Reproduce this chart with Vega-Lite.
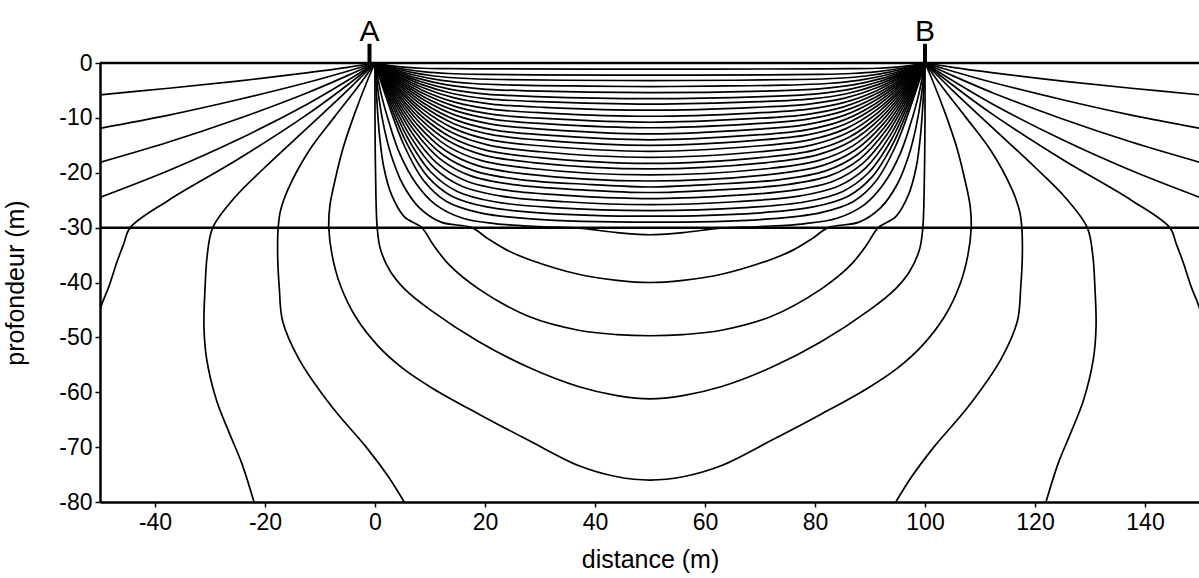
{
"$schema": "https://vega.github.io/schema/vega-lite/v6.json",
"width": 1100, "height": 439,
"autosize": {"type": "none"},
"padding": {"left": 100, "top": 63, "right": 0, "bottom": 76},
"background": "white",
"config": {"view": {"stroke": null}, "font": "Liberation Sans",
 "axis": {"grid": false, "domainColor": "black", "domainWidth": 2.5, "tickColor": "black", "tickWidth": 1.5, "tickSize": 5, "labelColor": "black", "labelFont": "Liberation Sans", "labelFontSize": 23, "titleFont": "Liberation Sans", "titleFontSize": 25, "titleFontWeight": "normal", "titleColor": "black"}},
"datasets": {"flow": [
{"s":"u1","x":0,"y":0},{"s":"u1","x":1.57,"y":-0.28},{"s":"u1","x":3.52,"y":-0.57},{"s":"u1","x":5.87,"y":-0.81},{"s":"u1","x":8.61,"y":-0.96},{"s":"u1","x":12.53,"y":-1.03},{"s":"u1","x":18.79,"y":-1.08},{"s":"u1","x":50,"y":-1.1},{"s":"u1","x":81.21,"y":-1.08},{"s":"u1","x":87.47,"y":-1.03},{"s":"u1","x":91.39,"y":-0.96},{"s":"u1","x":94.13,"y":-0.81},{"s":"u1","x":96.48,"y":-0.57},{"s":"u1","x":98.43,"y":-0.28},{"s":"u1","x":100,"y":0},
{"s":"u2","x":0,"y":0},{"s":"u2","x":2.42,"y":-0.55},{"s":"u2","x":5.45,"y":-1.14},{"s":"u2","x":9.08,"y":-1.63},{"s":"u2","x":13.32,"y":-1.91},{"s":"u2","x":19.38,"y":-2.07},{"s":"u2","x":29.06,"y":-2.16},{"s":"u2","x":50,"y":-2.2},{"s":"u2","x":70.94,"y":-2.16},{"s":"u2","x":80.62,"y":-2.07},{"s":"u2","x":86.68,"y":-1.91},{"s":"u2","x":90.92,"y":-1.63},{"s":"u2","x":94.55,"y":-1.14},{"s":"u2","x":97.58,"y":-0.55},{"s":"u2","x":100,"y":0},
{"s":"u3","x":0,"y":0},{"s":"u3","x":2.86,"y":-0.8},{"s":"u3","x":6.44,"y":-1.66},{"s":"u3","x":10.74,"y":-2.37},{"s":"u3","x":15.75,"y":-2.78},{"s":"u3","x":22.91,"y":-3.01},{"s":"u3","x":34.37,"y":-3.14},{"s":"u3","x":50,"y":-3.2},{"s":"u3","x":65.63,"y":-3.14},{"s":"u3","x":77.09,"y":-3.01},{"s":"u3","x":84.25,"y":-2.78},{"s":"u3","x":89.26,"y":-2.37},{"s":"u3","x":93.56,"y":-1.66},{"s":"u3","x":97.14,"y":-0.8},{"s":"u3","x":100,"y":0},
{"s":"u4","x":0,"y":0},{"s":"u4","x":3.23,"y":-1.08},{"s":"u4","x":7.27,"y":-2.24},{"s":"u4","x":12.12,"y":-3.18},{"s":"u4","x":17.78,"y":-3.74},{"s":"u4","x":25.86,"y":-4.04},{"s":"u4","x":38.78,"y":-4.21},{"s":"u4","x":50,"y":-4.3},{"s":"u4","x":61.22,"y":-4.21},{"s":"u4","x":74.14,"y":-4.04},{"s":"u4","x":82.22,"y":-3.74},{"s":"u4","x":87.88,"y":-3.18},{"s":"u4","x":92.73,"y":-2.24},{"s":"u4","x":96.77,"y":-1.08},{"s":"u4","x":100,"y":0},
{"s":"u5","x":0,"y":0},{"s":"u5","x":3.49,"y":-1.35},{"s":"u5","x":7.85,"y":-2.81},{"s":"u5","x":13.08,"y":-4.0},{"s":"u5","x":19.18,"y":-4.7},{"s":"u5","x":27.9,"y":-5.08},{"s":"u5","x":50,"y":-5.4},{"s":"u5","x":72.1,"y":-5.08},{"s":"u5","x":80.82,"y":-4.7},{"s":"u5","x":86.92,"y":-4.0},{"s":"u5","x":92.15,"y":-2.81},{"s":"u5","x":96.51,"y":-1.35},{"s":"u5","x":100,"y":0},
{"s":"u6","x":0,"y":0},{"s":"u6","x":3.67,"y":-1.63},{"s":"u6","x":8.26,"y":-3.38},{"s":"u6","x":13.77,"y":-4.81},{"s":"u6","x":20.2,"y":-5.66},{"s":"u6","x":29.38,"y":-6.11},{"s":"u6","x":50,"y":-6.5},{"s":"u6","x":70.62,"y":-6.11},{"s":"u6","x":79.8,"y":-5.66},{"s":"u6","x":86.23,"y":-4.81},{"s":"u6","x":91.74,"y":-3.38},{"s":"u6","x":96.33,"y":-1.63},{"s":"u6","x":100,"y":0},
{"s":"u7","x":0,"y":0},{"s":"u7","x":3.75,"y":-1.88},{"s":"u7","x":8.44,"y":-3.9},{"s":"u7","x":14.06,"y":-5.55},{"s":"u7","x":20.63,"y":-6.53},{"s":"u7","x":30.0,"y":-7.05},{"s":"u7","x":50,"y":-7.5},{"s":"u7","x":70.0,"y":-7.05},{"s":"u7","x":79.37,"y":-6.53},{"s":"u7","x":85.94,"y":-5.55},{"s":"u7","x":91.56,"y":-3.9},{"s":"u7","x":96.25,"y":-1.88},{"s":"u7","x":100,"y":0},
{"s":"u8","x":0,"y":0},{"s":"u8","x":3.85,"y":-2.15},{"s":"u8","x":8.65,"y":-4.47},{"s":"u8","x":14.42,"y":-6.36},{"s":"u8","x":21.15,"y":-7.48},{"s":"u8","x":30.77,"y":-8.08},{"s":"u8","x":50,"y":-8.6},{"s":"u8","x":69.23,"y":-8.08},{"s":"u8","x":78.85,"y":-7.48},{"s":"u8","x":85.58,"y":-6.36},{"s":"u8","x":91.35,"y":-4.47},{"s":"u8","x":96.15,"y":-2.15},{"s":"u8","x":100,"y":0},
{"s":"u9","x":0,"y":0},{"s":"u9","x":3.91,"y":-2.43},{"s":"u9","x":8.79,"y":-5.04},{"s":"u9","x":14.66,"y":-7.18},{"s":"u9","x":21.49,"y":-8.44},{"s":"u9","x":31.26,"y":-9.12},{"s":"u9","x":50,"y":-9.7},{"s":"u9","x":68.74,"y":-9.12},{"s":"u9","x":78.51,"y":-8.44},{"s":"u9","x":85.34,"y":-7.18},{"s":"u9","x":91.21,"y":-5.04},{"s":"u9","x":96.09,"y":-2.43},{"s":"u9","x":100,"y":0},
{"s":"u10","x":0,"y":0},{"s":"u10","x":3.95,"y":-2.7},{"s":"u10","x":8.88,"y":-5.62},{"s":"u10","x":14.8,"y":-7.99},{"s":"u10","x":21.7,"y":-9.4},{"s":"u10","x":31.57,"y":-10.15},{"s":"u10","x":50,"y":-10.8},{"s":"u10","x":68.43,"y":-10.15},{"s":"u10","x":78.3,"y":-9.4},{"s":"u10","x":85.2,"y":-7.99},{"s":"u10","x":91.12,"y":-5.62},{"s":"u10","x":96.05,"y":-2.7},{"s":"u10","x":100,"y":0},
{"s":"u11","x":0,"y":0},{"s":"u11","x":3.93,"y":-2.95},{"s":"u11","x":8.84,"y":-6.14},{"s":"u11","x":14.73,"y":-8.73},{"s":"u11","x":21.6,"y":-10.27},{"s":"u11","x":31.42,"y":-11.09},{"s":"u11","x":50,"y":-11.8},{"s":"u11","x":68.58,"y":-11.09},{"s":"u11","x":78.4,"y":-10.27},{"s":"u11","x":85.27,"y":-8.73},{"s":"u11","x":91.16,"y":-6.14},{"s":"u11","x":96.07,"y":-2.95},{"s":"u11","x":100,"y":0},
{"s":"u12","x":0,"y":0},{"s":"u12","x":3.93,"y":-3.23},{"s":"u12","x":8.84,"y":-6.71},{"s":"u12","x":14.73,"y":-9.55},{"s":"u12","x":21.6,"y":-11.22},{"s":"u12","x":31.42,"y":-12.13},{"s":"u12","x":50,"y":-12.9},{"s":"u12","x":68.58,"y":-12.13},{"s":"u12","x":78.4,"y":-11.22},{"s":"u12","x":85.27,"y":-9.55},{"s":"u12","x":91.16,"y":-6.71},{"s":"u12","x":96.07,"y":-3.23},{"s":"u12","x":100,"y":0},
{"s":"u13","x":0,"y":0},{"s":"u13","x":3.91,"y":-3.5},{"s":"u13","x":8.8,"y":-7.28},{"s":"u13","x":14.67,"y":-10.36},{"s":"u13","x":21.52,"y":-12.18},{"s":"u13","x":31.3,"y":-13.16},{"s":"u13","x":50,"y":-14.0},{"s":"u13","x":68.7,"y":-13.16},{"s":"u13","x":78.48,"y":-12.18},{"s":"u13","x":85.33,"y":-10.36},{"s":"u13","x":91.2,"y":-7.28},{"s":"u13","x":96.09,"y":-3.5},{"s":"u13","x":100,"y":0},
{"s":"u14","x":0,"y":0},{"s":"u14","x":3.85,"y":-3.75},{"s":"u14","x":8.67,"y":-7.8},{"s":"u14","x":14.45,"y":-11.1},{"s":"u14","x":21.2,"y":-13.05},{"s":"u14","x":30.83,"y":-14.1},{"s":"u14","x":50,"y":-15.0},{"s":"u14","x":69.17,"y":-14.1},{"s":"u14","x":78.8,"y":-13.05},{"s":"u14","x":85.55,"y":-11.1},{"s":"u14","x":91.33,"y":-7.8},{"s":"u14","x":96.15,"y":-3.75},{"s":"u14","x":100,"y":0},
{"s":"u15","x":0,"y":0},{"s":"u15","x":3.81,"y":-4.03},{"s":"u15","x":8.57,"y":-8.37},{"s":"u15","x":14.29,"y":-11.91},{"s":"u15","x":20.96,"y":-14.01},{"s":"u15","x":30.48,"y":-15.13},{"s":"u15","x":50,"y":-16.1},{"s":"u15","x":69.52,"y":-15.13},{"s":"u15","x":79.04,"y":-14.01},{"s":"u15","x":85.71,"y":-11.91},{"s":"u15","x":91.43,"y":-8.37},{"s":"u15","x":96.19,"y":-4.03},{"s":"u15","x":100,"y":0},
{"s":"u16","x":0,"y":0},{"s":"u16","x":3.75,"y":-4.3},{"s":"u16","x":8.45,"y":-8.94},{"s":"u16","x":14.08,"y":-12.73},{"s":"u16","x":20.65,"y":-14.96},{"s":"u16","x":30.03,"y":-16.17},{"s":"u16","x":50,"y":-17.2},{"s":"u16","x":69.97,"y":-16.17},{"s":"u16","x":79.35,"y":-14.96},{"s":"u16","x":85.92,"y":-12.73},{"s":"u16","x":91.55,"y":-8.94},{"s":"u16","x":96.25,"y":-4.3},{"s":"u16","x":100,"y":0},
{"s":"u17","x":0,"y":0},{"s":"u17","x":3.69,"y":-4.58},{"s":"u17","x":8.29,"y":-9.52},{"s":"u17","x":13.82,"y":-13.54},{"s":"u17","x":20.27,"y":-15.92},{"s":"u17","x":29.49,"y":-17.2},{"s":"u17","x":50,"y":-18.3},{"s":"u17","x":70.51,"y":-17.2},{"s":"u17","x":79.73,"y":-15.92},{"s":"u17","x":86.18,"y":-13.54},{"s":"u17","x":91.71,"y":-9.52},{"s":"u17","x":96.31,"y":-4.58},{"s":"u17","x":100,"y":0},
{"s":"u18","x":0,"y":0},{"s":"u18","x":3.59,"y":-4.83},{"s":"u18","x":8.07,"y":-10.04},{"s":"u18","x":13.46,"y":-14.28},{"s":"u18","x":19.73,"y":-16.79},{"s":"u18","x":28.7,"y":-18.14},{"s":"u18","x":50,"y":-19.3},{"s":"u18","x":71.3,"y":-18.14},{"s":"u18","x":80.27,"y":-16.79},{"s":"u18","x":86.54,"y":-14.28},{"s":"u18","x":91.93,"y":-10.04},{"s":"u18","x":96.41,"y":-4.83},{"s":"u18","x":100,"y":0},
{"s":"u19","x":0,"y":0},{"s":"u19","x":3.5,"y":-5.1},{"s":"u19","x":7.87,"y":-10.61},{"s":"u19","x":13.12,"y":-15.1},{"s":"u19","x":19.24,"y":-17.75},{"s":"u19","x":27.98,"y":-19.18},{"s":"u19","x":50,"y":-20.4},{"s":"u19","x":72.02,"y":-19.18},{"s":"u19","x":80.76,"y":-17.75},{"s":"u19","x":86.88,"y":-15.1},{"s":"u19","x":92.13,"y":-10.61},{"s":"u19","x":96.5,"y":-5.1},{"s":"u19","x":100,"y":0},
{"s":"u20","x":0,"y":0},{"s":"u20","x":3.4,"y":-5.38},{"s":"u20","x":7.64,"y":-11.18},{"s":"u20","x":12.74,"y":-15.91},{"s":"u20","x":18.68,"y":-18.71},{"s":"u20","x":27.17,"y":-20.21},{"s":"u20","x":50,"y":-21.5},{"s":"u20","x":72.83,"y":-20.21},{"s":"u20","x":81.32,"y":-18.71},{"s":"u20","x":87.26,"y":-15.91},{"s":"u20","x":92.36,"y":-11.18},{"s":"u20","x":96.6,"y":-5.38},{"s":"u20","x":100,"y":0},
{"s":"u21","x":0,"y":0},{"s":"u21","x":3.28,"y":-5.65},{"s":"u21","x":7.39,"y":-11.75},{"s":"u21","x":12.32,"y":-16.72},{"s":"u21","x":18.06,"y":-19.66},{"s":"u21","x":26.27,"y":-21.24},{"s":"u21","x":39.41,"y":-22.15},{"s":"u21","x":50,"y":-22.6},{"s":"u21","x":60.59,"y":-22.15},{"s":"u21","x":73.73,"y":-21.24},{"s":"u21","x":81.94,"y":-19.66},{"s":"u21","x":87.68,"y":-16.72},{"s":"u21","x":92.61,"y":-11.75},{"s":"u21","x":96.72,"y":-5.65},{"s":"u21","x":100,"y":0},
{"s":"u22","x":0,"y":0},{"s":"u22","x":3.15,"y":-5.9},{"s":"u22","x":7.08,"y":-12.27},{"s":"u22","x":11.81,"y":-17.46},{"s":"u22","x":17.31,"y":-20.53},{"s":"u22","x":25.18,"y":-22.18},{"s":"u22","x":37.78,"y":-23.13},{"s":"u22","x":50,"y":-23.6},{"s":"u22","x":62.22,"y":-23.13},{"s":"u22","x":74.82,"y":-22.18},{"s":"u22","x":82.69,"y":-20.53},{"s":"u22","x":88.19,"y":-17.46},{"s":"u22","x":92.92,"y":-12.27},{"s":"u22","x":96.85,"y":-5.9},{"s":"u22","x":100,"y":0},
{"s":"u23","x":0,"y":0},{"s":"u23","x":3.02,"y":-6.18},{"s":"u23","x":6.79,"y":-12.84},{"s":"u23","x":11.31,"y":-18.28},{"s":"u23","x":16.59,"y":-21.49},{"s":"u23","x":24.13,"y":-23.22},{"s":"u23","x":36.19,"y":-24.21},{"s":"u23","x":50,"y":-24.7},{"s":"u23","x":63.81,"y":-24.21},{"s":"u23","x":75.87,"y":-23.22},{"s":"u23","x":83.41,"y":-21.49},{"s":"u23","x":88.69,"y":-18.28},{"s":"u23","x":93.21,"y":-12.84},{"s":"u23","x":96.98,"y":-6.18},{"s":"u23","x":100,"y":0},
{"s":"u24","x":0,"y":0},{"s":"u24","x":2.87,"y":-6.45},{"s":"u24","x":6.46,"y":-13.42},{"s":"u24","x":10.77,"y":-19.09},{"s":"u24","x":15.8,"y":-22.45},{"s":"u24","x":22.98,"y":-24.25},{"s":"u24","x":34.46,"y":-25.28},{"s":"u24","x":50,"y":-25.8},{"s":"u24","x":65.54,"y":-25.28},{"s":"u24","x":77.02,"y":-24.25},{"s":"u24","x":84.2,"y":-22.45},{"s":"u24","x":89.23,"y":-19.09},{"s":"u24","x":93.54,"y":-13.42},{"s":"u24","x":97.13,"y":-6.45},{"s":"u24","x":100,"y":0},
{"s":"u25","x":0,"y":0},{"s":"u25","x":2.72,"y":-6.73},{"s":"u25","x":6.12,"y":-13.99},{"s":"u25","x":10.19,"y":-19.91},{"s":"u25","x":14.95,"y":-23.4},{"s":"u25","x":21.74,"y":-25.29},{"s":"u25","x":32.62,"y":-26.36},{"s":"u25","x":50,"y":-26.9},{"s":"u25","x":67.38,"y":-26.36},{"s":"u25","x":78.26,"y":-25.29},{"s":"u25","x":85.05,"y":-23.4},{"s":"u25","x":89.81,"y":-19.91},{"s":"u25","x":93.88,"y":-13.99},{"s":"u25","x":97.28,"y":-6.73},{"s":"u25","x":100,"y":0},
{"s":"u26","x":0,"y":0},{"s":"u26","x":2.54,"y":-6.98},{"s":"u26","x":5.72,"y":-14.51},{"s":"u26","x":9.53,"y":-20.65},{"s":"u26","x":13.98,"y":-24.27},{"s":"u26","x":20.34,"y":-26.23},{"s":"u26","x":30.5,"y":-27.34},{"s":"u26","x":50,"y":-27.9},{"s":"u26","x":69.5,"y":-27.34},{"s":"u26","x":79.66,"y":-26.23},{"s":"u26","x":86.02,"y":-24.27},{"s":"u26","x":90.47,"y":-20.65},{"s":"u26","x":94.28,"y":-14.51},{"s":"u26","x":97.46,"y":-6.98},{"s":"u26","x":100,"y":0},
{"s":"u27","x":0,"y":0},{"s":"u27","x":2.37,"y":-7.25},{"s":"u27","x":5.32,"y":-15.08},{"s":"u27","x":8.87,"y":-21.46},{"s":"u27","x":13.01,"y":-25.23},{"s":"u27","x":18.93,"y":-27.26},{"s":"u27","x":28.39,"y":-28.42},{"s":"u27","x":50,"y":-29.0},{"s":"u27","x":71.61,"y":-28.42},{"s":"u27","x":81.07,"y":-27.26},{"s":"u27","x":86.99,"y":-25.23},{"s":"u27","x":91.13,"y":-21.46},{"s":"u27","x":94.68,"y":-15.08},{"s":"u27","x":97.63,"y":-7.25},{"s":"u27","x":100,"y":0},
{"s":"D","x":0,"y":0},{"s":"D","x":1.2,"y":-6},{"s":"D","x":2.6,"y":-11},{"s":"D","x":4.5,"y":-16.5},{"s":"D","x":7.5,"y":-22},{"s":"D","x":11,"y":-25.8},{"s":"D","x":16,"y":-28.3},{"s":"D","x":22,"y":-29.3},{"s":"D","x":30,"y":-29.8},{"s":"D","x":37,"y":-30.1},{"s":"D","x":44,"y":-30.9},{"s":"D","x":50,"y":-31.3},{"s":"D","x":56,"y":-30.9},{"s":"D","x":63,"y":-30.1},{"s":"D","x":70,"y":-29.8},{"s":"D","x":78,"y":-29.3},{"s":"D","x":84,"y":-28.3},{"s":"D","x":89,"y":-25.8},{"s":"D","x":92.5,"y":-22},{"s":"D","x":95.5,"y":-16.5},{"s":"D","x":97.4,"y":-11},{"s":"D","x":98.8,"y":-6},{"s":"D","x":100,"y":0},
{"s":"C1","x":0,"y":0},{"s":"C1","x":0.8,"y":-7},{"s":"C1","x":1.7,"y":-12},{"s":"C1","x":3,"y":-17},{"s":"C1","x":5,"y":-22},{"s":"C1","x":8,"y":-26.3},{"s":"C1","x":12,"y":-29},{"s":"C1","x":17.6,"y":-30},{"s":"C1","x":20.5,"y":-32},{"s":"C1","x":24,"y":-34.1},{"s":"C1","x":28,"y":-35.8},{"s":"C1","x":37,"y":-38.5},{"s":"C1","x":44,"y":-39.6},{"s":"C1","x":50,"y":-40},{"s":"C1","x":56,"y":-39.6},{"s":"C1","x":63,"y":-38.5},{"s":"C1","x":72,"y":-35.8},{"s":"C1","x":76,"y":-34.1},{"s":"C1","x":79.5,"y":-32},{"s":"C1","x":82.4,"y":-30},{"s":"C1","x":88,"y":-29},{"s":"C1","x":92,"y":-26.3},{"s":"C1","x":95,"y":-22},{"s":"C1","x":97,"y":-17},{"s":"C1","x":98.3,"y":-12},{"s":"C1","x":99.2,"y":-7},{"s":"C1","x":100,"y":0},
{"s":"C2","x":0,"y":0},{"s":"C2","x":0.35,"y":-7},{"s":"C2","x":0.8,"y":-13},{"s":"C2","x":1.6,"y":-19},{"s":"C2","x":3,"y":-24},{"s":"C2","x":5.3,"y":-28},{"s":"C2","x":8.5,"y":-30},{"s":"C2","x":10.5,"y":-33},{"s":"C2","x":13.5,"y":-36.8},{"s":"C2","x":18.9,"y":-41.2},{"s":"C2","x":28,"y":-46.2},{"s":"C2","x":37,"y":-48.7},{"s":"C2","x":44,"y":-49.5},{"s":"C2","x":50,"y":-49.7},{"s":"C2","x":56,"y":-49.5},{"s":"C2","x":63,"y":-48.7},{"s":"C2","x":72,"y":-46.2},{"s":"C2","x":81.1,"y":-41.2},{"s":"C2","x":86.5,"y":-36.8},{"s":"C2","x":89.5,"y":-33},{"s":"C2","x":91.5,"y":-30},{"s":"C2","x":94.7,"y":-28},{"s":"C2","x":97,"y":-24},{"s":"C2","x":98.4,"y":-19},{"s":"C2","x":99.2,"y":-13},{"s":"C2","x":99.65,"y":-7},{"s":"C2","x":100,"y":0},
{"s":"C3","x":0,"y":0},{"s":"C3","x":0,"y":-10},{"s":"C3","x":0.1,"y":-20},{"s":"C3","x":0.4,"y":-30},{"s":"C3","x":1.0,"y":-34},{"s":"C3","x":2.8,"y":-38},{"s":"C3","x":5.5,"y":-41.3},{"s":"C3","x":9.8,"y":-44.8},{"s":"C3","x":18.9,"y":-50.8},{"s":"C3","x":28,"y":-55.5},{"s":"C3","x":37.1,"y":-59},{"s":"C3","x":44,"y":-60.6},{"s":"C3","x":50,"y":-61.2},{"s":"C3","x":56,"y":-60.6},{"s":"C3","x":62.9,"y":-59},{"s":"C3","x":72,"y":-55.5},{"s":"C3","x":81.1,"y":-50.8},{"s":"C3","x":90.2,"y":-44.8},{"s":"C3","x":94.5,"y":-41.3},{"s":"C3","x":97.2,"y":-38},{"s":"C3","x":99,"y":-34},{"s":"C3","x":99.6,"y":-30},{"s":"C3","x":99.9,"y":-20},{"s":"C3","x":100,"y":-10},{"s":"C3","x":100,"y":0},
{"s":"C4","x":0,"y":0},{"s":"C4","x":-1.5,"y":-3.5},{"s":"C4","x":-3.8,"y":-9.5},{"s":"C4","x":-5.8,"y":-15.5},{"s":"C4","x":-7.3,"y":-21.5},{"s":"C4","x":-8.2,"y":-26},{"s":"C4","x":-8.4,"y":-30},{"s":"C4","x":-7.8,"y":-35},{"s":"C4","x":-6.3,"y":-40.5},{"s":"C4","x":-3.5,"y":-46.3},{"s":"C4","x":0.5,"y":-51.5},{"s":"C4","x":5,"y":-55.6},{"s":"C4","x":10.5,"y":-59.3},{"s":"C4","x":18.9,"y":-64},{"s":"C4","x":28,"y":-68.8},{"s":"C4","x":37.1,"y":-73.4},{"s":"C4","x":44,"y":-75.4},{"s":"C4","x":50,"y":-76},{"s":"C4","x":56,"y":-75.4},{"s":"C4","x":62.9,"y":-73.4},{"s":"C4","x":72,"y":-68.8},{"s":"C4","x":81.1,"y":-64},{"s":"C4","x":89.5,"y":-59.3},{"s":"C4","x":95,"y":-55.6},{"s":"C4","x":99.5,"y":-51.5},{"s":"C4","x":103.5,"y":-46.3},{"s":"C4","x":106.3,"y":-40.5},{"s":"C4","x":107.8,"y":-35},{"s":"C4","x":108.4,"y":-30},{"s":"C4","x":108.2,"y":-26},{"s":"C4","x":107.3,"y":-21.5},{"s":"C4","x":105.8,"y":-15.5},{"s":"C4","x":103.8,"y":-9.5},{"s":"C4","x":101.5,"y":-3.5},{"s":"C4","x":100,"y":0},
{"s":"C5","x":0,"y":0},{"s":"C5","x":-3,"y":-4.2},{"s":"C5","x":-7.5,"y":-10},{"s":"C5","x":-12,"y":-16},{"s":"C5","x":-15.8,"y":-23},{"s":"C5","x":-17.2,"y":-27},{"s":"C5","x":-17.6,"y":-30},{"s":"C5","x":-17.7,"y":-35},{"s":"C5","x":-17.4,"y":-41},{"s":"C5","x":-16.8,"y":-47},{"s":"C5","x":-13.8,"y":-54},{"s":"C5","x":-7.8,"y":-62.7},{"s":"C5","x":-1.6,"y":-70},{"s":"C5","x":2.5,"y":-75.5},{"s":"C5","x":5.3,"y":-80},
{"s":"C5r","x":100,"y":0},{"s":"C5r","x":103,"y":-4.2},{"s":"C5r","x":107.5,"y":-10},{"s":"C5r","x":112,"y":-16},{"s":"C5r","x":115.8,"y":-23},{"s":"C5r","x":117.2,"y":-27},{"s":"C5r","x":117.6,"y":-30},{"s":"C5r","x":117.7,"y":-35},{"s":"C5r","x":117.4,"y":-41},{"s":"C5r","x":116.8,"y":-47},{"s":"C5r","x":113.8,"y":-54},{"s":"C5r","x":107.8,"y":-62.7},{"s":"C5r","x":101.6,"y":-70},{"s":"C5r","x":97.5,"y":-75.5},{"s":"C5r","x":94.7,"y":-80},
{"s":"C6","x":0,"y":0},{"s":"C6","x":-5,"y":-5},{"s":"C6","x":-12.5,"y":-12},{"s":"C6","x":-20,"y":-19},{"s":"C6","x":-25.5,"y":-24.5},{"s":"C6","x":-29.5,"y":-30},{"s":"C6","x":-30.5,"y":-35},{"s":"C6","x":-30.9,"y":-41},{"s":"C6","x":-31.1,"y":-48},{"s":"C6","x":-30.6,"y":-54},{"s":"C6","x":-28.8,"y":-61.5},{"s":"C6","x":-26.5,"y":-67.4},{"s":"C6","x":-24.2,"y":-73},{"s":"C6","x":-22,"y":-80},
{"s":"C6r","x":100,"y":0},{"s":"C6r","x":105,"y":-5},{"s":"C6r","x":112.5,"y":-12},{"s":"C6r","x":120,"y":-19},{"s":"C6r","x":125.5,"y":-24.5},{"s":"C6r","x":129.5,"y":-30},{"s":"C6r","x":130.5,"y":-35},{"s":"C6r","x":130.9,"y":-41},{"s":"C6r","x":131.1,"y":-48},{"s":"C6r","x":130.6,"y":-54},{"s":"C6r","x":128.8,"y":-61.5},{"s":"C6r","x":126.5,"y":-67.4},{"s":"C6r","x":124.2,"y":-73},{"s":"C6r","x":122,"y":-80},
{"s":"C7","x":0,"y":0},{"s":"C7","x":-5,"y":-4},{"s":"C7","x":-12.5,"y":-9.5},{"s":"C7","x":-25,"y":-17.6},{"s":"C7","x":-37.5,"y":-25},{"s":"C7","x":-44.5,"y":-30},{"s":"C7","x":-45.7,"y":-33},{"s":"C7","x":-47,"y":-36.5},{"s":"C7","x":-48.4,"y":-40.8},{"s":"C7","x":-49.5,"y":-43.5},{"s":"C7","x":-50,"y":-45},
{"s":"C7r","x":100,"y":0},{"s":"C7r","x":105,"y":-4},{"s":"C7r","x":112.5,"y":-9.5},{"s":"C7r","x":125,"y":-17.6},{"s":"C7r","x":137.5,"y":-25},{"s":"C7r","x":144.5,"y":-30},{"s":"C7r","x":145.7,"y":-33},{"s":"C7r","x":147,"y":-36.5},{"s":"C7r","x":148.4,"y":-40.8},{"s":"C7r","x":149.5,"y":-43.5},{"s":"C7r","x":150,"y":-45},
{"s":"L1","x":0,"y":0},{"s":"L1","x":-5,"y":-0.8},{"s":"L1","x":-12.5,"y":-1.8},{"s":"L1","x":-25,"y":-3.3},{"s":"L1","x":-37.5,"y":-4.6},{"s":"L1","x":-50,"y":-5.8},
{"s":"L2","x":0,"y":0},{"s":"L2","x":-5,"y":-1.5},{"s":"L2","x":-12.5,"y":-3.6},{"s":"L2","x":-25,"y":-6.7},{"s":"L2","x":-37.5,"y":-9.5},{"s":"L2","x":-50,"y":-11.9},
{"s":"L3","x":0,"y":0},{"s":"L3","x":-5,"y":-2.3},{"s":"L3","x":-12.5,"y":-5.5},{"s":"L3","x":-25,"y":-10.2},{"s":"L3","x":-37.5,"y":-14.4},{"s":"L3","x":-50,"y":-18.1},
{"s":"L4","x":0,"y":0},{"s":"L4","x":-5,"y":-3.2},{"s":"L4","x":-12.5,"y":-7.6},{"s":"L4","x":-25,"y":-14},{"s":"L4","x":-37.5,"y":-19.6},{"s":"L4","x":-50,"y":-24.5},
{"s":"L1r","x":100,"y":0},{"s":"L1r","x":105,"y":-0.8},{"s":"L1r","x":112.5,"y":-1.8},{"s":"L1r","x":125,"y":-3.3},{"s":"L1r","x":137.5,"y":-4.6},{"s":"L1r","x":150,"y":-5.8},
{"s":"L2r","x":100,"y":0},{"s":"L2r","x":105,"y":-1.5},{"s":"L2r","x":112.5,"y":-3.6},{"s":"L2r","x":125,"y":-6.7},{"s":"L2r","x":137.5,"y":-9.5},{"s":"L2r","x":150,"y":-11.9},
{"s":"L3r","x":100,"y":0},{"s":"L3r","x":105,"y":-2.3},{"s":"L3r","x":112.5,"y":-5.5},{"s":"L3r","x":125,"y":-10.2},{"s":"L3r","x":137.5,"y":-14.4},{"s":"L3r","x":150,"y":-18.1},
{"s":"L4r","x":100,"y":0},{"s":"L4r","x":105,"y":-3.2},{"s":"L4r","x":112.5,"y":-7.6},{"s":"L4r","x":125,"y":-14},{"s":"L4r","x":137.5,"y":-19.6},{"s":"L4r","x":150,"y":-24.5}
]},
"layer": [
{"data": {"name": "flow"},
 "transform": [{"window": [{"op": "row_number", "as": "i"}]}],
 "mark": {"type": "line", "interpolate": "catmull-rom", "color": "black", "strokeWidth": 1.7, "clip": true},
 "encoding": {
  "x": {"field": "x", "type": "quantitative", "scale": {"domain": [-50, 150], "nice": false, "zero": false},
        "axis": {"title": "distance (m)", "values": [-40, -20, 0, 20, 40, 60, 80, 100, 120, 140], "labelExpr": "'' + datum.value", "labelPadding": 4, "titlePadding": 13}},
  "y": {"field": "y", "type": "quantitative", "scale": {"domain": [-80, 0], "nice": false, "zero": false},
        "axis": {"title": "profondeur (m)", "values": [0, -10, -20, -30, -40, -50, -60, -70, -80], "labelExpr": "'' + datum.value", "labelPadding": 3, "titlePadding": 30}},
  "detail": {"field": "s"},
  "order": {"field": "i", "type": "quantitative"}
 }},
{"data": {"values": [{"h": 0}, {"h": -30}]},
 "mark": {"type": "rule", "color": "black", "strokeWidth": 2.5},
 "encoding": {"y": {"field": "h", "type": "quantitative", "scale": {"domain": [-80, 0], "nice": false, "zero": false},
        "axis": {"title": "profondeur (m)", "values": [0, -10, -20, -30, -40, -50, -60, -70, -80], "labelExpr": "'' + datum.value", "labelPadding": 3, "titlePadding": 30}}}},
{"data": {"values": [{"e": "A", "x": -1}, {"e": "B", "x": 100}]},
 "mark": {"type": "rule", "color": "black", "strokeWidth": 4},
 "encoding": {"x": {"field": "x", "type": "quantitative", "scale": {"domain": [-50, 150], "nice": false, "zero": false},
        "axis": {"title": "distance (m)", "values": [-40, -20, 0, 20, 40, 60, 80, 100, 120, 140], "labelExpr": "'' + datum.value", "labelPadding": 4, "titlePadding": 13}},
  "y": {"datum": 0, "type": "quantitative", "scale": {"domain": [-80, 0], "nice": false, "zero": false},
        "axis": {"title": "profondeur (m)", "values": [0, -10, -20, -30, -40, -50, -60, -70, -80], "labelExpr": "'' + datum.value", "labelPadding": 3, "titlePadding": 30}},
  "y2": {"datum": 3.5}}},
{"data": {"values": [{"e": "A", "x": -1}, {"e": "B", "x": 100}]},
 "mark": {"type": "text", "color": "black", "fontSize": 30, "baseline": "alphabetic", "align": "center", "font": "Liberation Sans"},
 "encoding": {"x": {"field": "x", "type": "quantitative", "scale": {"domain": [-50, 150], "nice": false, "zero": false},
        "axis": {"title": "distance (m)", "values": [-40, -20, 0, 20, 40, 60, 80, 100, 120, 140], "labelExpr": "'' + datum.value", "labelPadding": 4, "titlePadding": 13}},
  "y": {"datum": 4.1, "type": "quantitative", "scale": {"domain": [-80, 0], "nice": false, "zero": false},
        "axis": {"title": "profondeur (m)", "values": [0, -10, -20, -30, -40, -50, -60, -70, -80], "labelExpr": "'' + datum.value", "labelPadding": 3, "titlePadding": 30}},
  "text": {"field": "e"}}}
]
}
